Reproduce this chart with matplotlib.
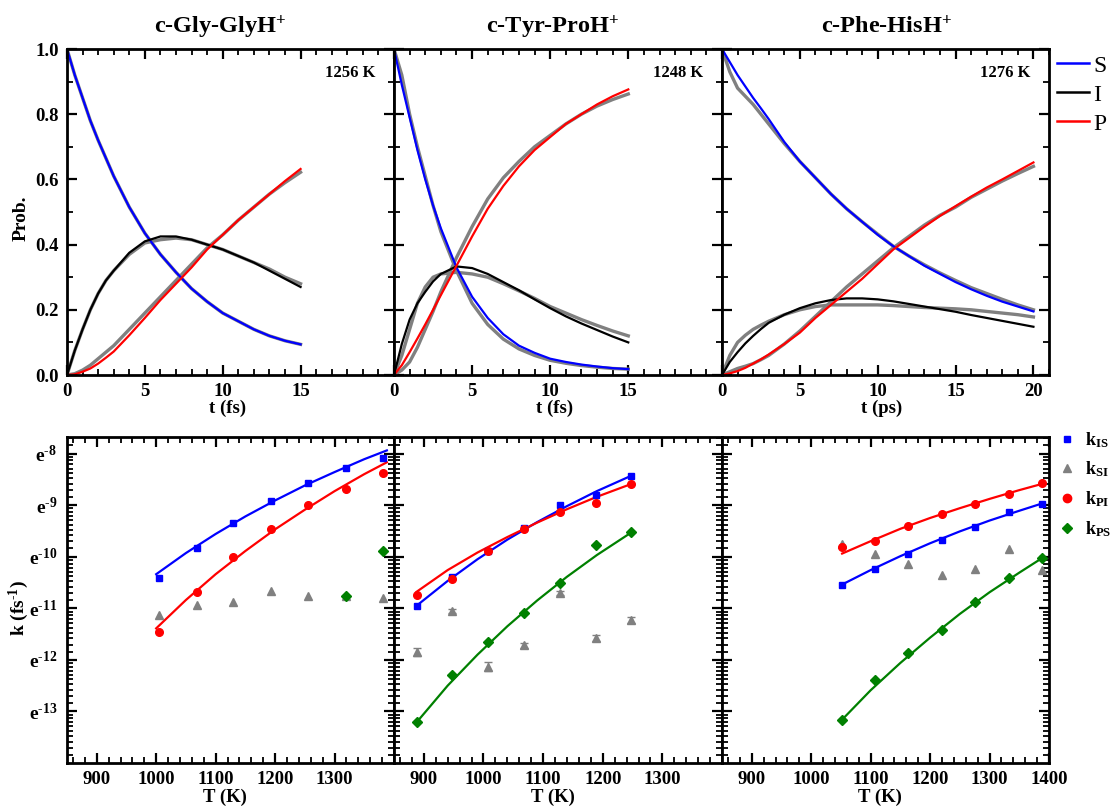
import numpy as np
import matplotlib
matplotlib.use("Agg")
import matplotlib.pyplot as plt
from matplotlib.ticker import MultipleLocator, FixedLocator, FixedFormatter, NullFormatter
from matplotlib.lines import Line2D

plt.rcParams['font.family'] = ['Liberation Serif', 'DejaVu Serif']
plt.rcParams['font.weight'] = 'bold'
plt.rcParams['mathtext.fontset'] = 'custom'
plt.rcParams['mathtext.rm'] = 'Liberation Serif'
plt.rcParams['mathtext.bf'] = 'Liberation Serif:bold'
plt.rcParams['mathtext.default'] = 'bf'

# ---- top row: populations vs time (fits + simulation in grey) ----
t15 = [0, 0.5, 1, 1.5, 2, 2.5, 3, 4, 5, 6, 7, 8, 9, 10, 11, 12, 13, 14, 15]
t20 = [0, 0.5, 1, 1.5, 2, 2.5, 3, 4, 5, 6, 7, 8, 9, 10, 11, 12, 13, 14, 15, 16, 17, 18, 19, 20]

# c-Gly-GlyH+  1256 K
S1 = [1.0, 0.92, 0.85, 0.78, 0.72, 0.665, 0.61, 0.515, 0.435, 0.37, 0.315, 0.265, 0.225, 0.19, 0.165, 0.14,
      0.12, 0.105, 0.094]
I1 = [0, 0.075, 0.14, 0.20, 0.25, 0.29, 0.32, 0.375, 0.41, 0.425, 0.425, 0.415, 0.40, 0.385, 0.365, 0.345,
      0.32, 0.295, 0.27]
P1 = [0, 0.002, 0.01, 0.02, 0.035, 0.053, 0.072, 0.122, 0.175, 0.23, 0.28, 0.33, 0.385, 0.43, 0.475, 0.515,
      0.555, 0.595, 0.632]
Ig1 = [0, 0.075, 0.14, 0.20, 0.25, 0.29, 0.32, 0.37, 0.405, 0.415, 0.42, 0.415, 0.40, 0.385, 0.365, 0.345,
       0.325, 0.30, 0.28]
Pg1 = [0, 0.004, 0.015, 0.03, 0.05, 0.07, 0.09, 0.14, 0.19, 0.24, 0.29, 0.34, 0.39, 0.43, 0.475, 0.515,
       0.555, 0.59, 0.622]

# c-Tyr-ProH+  1248 K
S2 = [1.0, 0.89, 0.79, 0.69, 0.60, 0.52, 0.45, 0.33, 0.24, 0.175, 0.125, 0.09, 0.068, 0.05, 0.04, 0.032,
      0.026, 0.021, 0.018]
I2 = [0, 0.095, 0.17, 0.22, 0.255, 0.287, 0.31, 0.333, 0.328, 0.31, 0.285, 0.26, 0.232, 0.205, 0.18, 0.158,
      0.138, 0.118, 0.10]
P2 = [0, 0.03, 0.07, 0.112, 0.155, 0.20, 0.245, 0.335, 0.425, 0.51, 0.58, 0.64, 0.69, 0.73, 0.77, 0.80,
      0.83, 0.855, 0.876]
Sg2 = [1.0, 0.92, 0.80, 0.70, 0.61, 0.52, 0.44, 0.32, 0.22, 0.155, 0.11, 0.08, 0.06, 0.045, 0.036, 0.029,
       0.024, 0.02, 0.018]
Ig2 = [0, 0.06, 0.14, 0.22, 0.27, 0.30, 0.31, 0.315, 0.31, 0.30, 0.28, 0.258, 0.235, 0.21, 0.19, 0.17,
       0.152, 0.135, 0.12]
Pg2 = [0, 0.015, 0.04, 0.085, 0.14, 0.195, 0.255, 0.36, 0.455, 0.54, 0.605, 0.655, 0.70, 0.735, 0.77, 0.80,
       0.825, 0.845, 0.862]

# c-Phe-HisH+  1276 K (ps)
S3 = [1.0, 0.96, 0.92, 0.885, 0.85, 0.818, 0.785, 0.715, 0.655, 0.605, 0.555, 0.51, 0.47, 0.43, 0.395, 0.365,
      0.335, 0.31, 0.285, 0.263, 0.243, 0.225, 0.21, 0.195]
I3 = [0, 0.04, 0.07, 0.097, 0.12, 0.141, 0.16, 0.185, 0.205, 0.22, 0.23, 0.235, 0.235, 0.232, 0.226, 0.218,
      0.21, 0.202, 0.194, 0.184, 0.175, 0.166, 0.157, 0.148]
P3 = [0, 0.005, 0.012, 0.022, 0.035, 0.048, 0.063, 0.095, 0.13, 0.175, 0.215, 0.255, 0.295, 0.34, 0.385, 0.42,
      0.455, 0.488, 0.518, 0.547, 0.575, 0.60, 0.626, 0.652]
Sg3 = [1.0, 0.93, 0.88, 0.855, 0.83, 0.80, 0.77, 0.71, 0.655, 0.605, 0.555, 0.51, 0.47, 0.432, 0.395, 0.365,
       0.338, 0.313, 0.29, 0.268, 0.25, 0.232, 0.215, 0.20]
Ig3 = [0, 0.06, 0.10, 0.122, 0.14, 0.153, 0.165, 0.185, 0.20, 0.21, 0.215, 0.215, 0.215, 0.215, 0.213, 0.21,
       0.207, 0.205, 0.203, 0.20, 0.195, 0.19, 0.185, 0.178]
Pg3 = [0, 0.01, 0.02, 0.027, 0.035, 0.047, 0.06, 0.095, 0.135, 0.18, 0.225, 0.27, 0.31, 0.35, 0.39, 0.425,
       0.46, 0.49, 0.515, 0.545, 0.57, 0.595, 0.618, 0.64]

titles = ['c-Gly-GlyH$^{+}$', 'c-Tyr-ProH$^{+}$', 'c-Phe-HisH$^{+}$']
temps = ['1256 K', '1248 K', '1276 K']
tunits = ['t (fs)', 't (fs)', 't (ps)']

# ---- bottom row: ln k vs T ----
T1 = [1005, 1068, 1130, 1193, 1256, 1319, 1381]
lnIS1 = [-10.41, -9.84, -9.35, -8.92, -8.57, -8.29, -8.08]
lnPI1 = [-11.46, -10.68, -10.01, -9.46, -8.99, -8.68, -8.37]
lnSI1 = [-11.14, -10.94, -10.88, -10.67, -10.77, -10.77, -10.81]
T1ps = [1319, 1381]
lnPS1 = [-10.77, -9.89]
Tf1 = [1000, 1050, 1100, 1150, 1200, 1250, 1300, 1350, 1388]
fIS1 = [-10.34, -9.93, -9.56, -9.22, -8.91, -8.62, -8.36, -8.11, -7.94]
fPI1 = [-11.39, -10.84, -10.34, -9.89, -9.47, -9.09, -8.73, -8.40, -8.17]

T2 = [888, 948, 1008, 1068, 1128, 1188, 1248]
lnIS2 = [-10.95, -10.40, -9.89, -9.45, -9.00, -8.81, -8.43]
lnPI2 = [-10.74, -10.43, -9.89, -9.47, -9.14, -8.95, -8.59]
lnSI2 = [-11.85, -11.06, -12.13, -11.72, -10.71, -11.58, -11.23]
errSI2 = [0.08, 0.04, 0.08, 0.05, 0.04, 0.06, 0.06]
lnPS2 = [-13.21, -12.30, -11.65, -11.10, -10.51, -9.78, -9.53]
Tf2 = [888, 940, 990, 1040, 1090, 1140, 1190, 1248]
fIS2 = [-10.95, -10.47, -10.05, -9.67, -9.33, -9.02, -8.73, -8.43]
fPI2 = [-10.68, -10.26, -9.92, -9.62, -9.34, -9.08, -8.84, -8.59]
fPS2 = [-13.21, -12.50, -11.90, -11.35, -10.85, -10.39, -9.97, -9.53]

T3 = [1052, 1107, 1163, 1220, 1276, 1332, 1388]
lnIS3 = [-10.54, -10.23, -9.94, -9.68, -9.43, -9.14, -8.97]
lnPI3 = [-9.81, -9.70, -9.40, -9.17, -8.97, -8.78, -8.57]
lnSI3 = [-9.75, -9.95, -10.14, -10.35, -10.24, -9.85, -10.26]
lnPS3 = [-13.16, -12.39, -11.87, -11.43, -10.88, -10.42, -10.03]
Tf3 = [1052, 1100, 1150, 1200, 1250, 1300, 1350, 1388]
fIS3 = [-10.54, -10.26, -9.99, -9.74, -9.51, -9.30, -9.11, -8.97]
fPI3 = [-9.94, -9.70, -9.46, -9.25, -9.06, -8.88, -8.71, -8.59]
fPS3 = [-13.16, -12.59, -12.06, -11.57, -11.11, -10.69, -10.31, -10.03]

ln_major = [-13, -12, -11, -10, -9, -8]

blue, red, green, grey = '#0000FF', '#FF0000', '#008000', '#808080'

W, H = 1118, 806
fig = plt.figure(figsize=(W / 100, H / 100), dpi=100)


def add_ax(x0, y0, x1, y1):
    return fig.add_axes([x0 / W, 1 - y1 / H, (x1 - x0) / W, (y1 - y0) / H])


def style(ax):
    for s in ax.spines.values():
        s.set_linewidth(2)
    ax.tick_params(which='both', direction='in', top=True, right=True, labelsize=13.5, pad=6)
    ax.tick_params(which='major', length=7, width=1.6)
    ax.tick_params(which='minor', length=4, width=1.3)
    for lab in ax.get_xticklabels() + ax.get_yticklabels():
        lab.set_fontweight('bold')


xs = [67, 394, 722, 1049]
tdata = [
    (t15, S1, I1, P1, S1, Ig1, Pg1),
    (t15, S2, I2, P2, Sg2, Ig2, Pg2),
    (t20, S3, I3, P3, Sg3, Ig3, Pg3),
]
for i in range(3):
    ax = add_ax(xs[i], 49, xs[i + 1], 375)
    t, S, I, P, Sg, Ig, Pg = tdata[i]
    ax.plot(t, Sg, color=grey, lw=2.4)
    ax.plot(t, Ig, color=grey, lw=2.4)
    ax.plot(t, Pg, color=grey, lw=2.4)
    ax.plot(t, S, color=blue, lw=1.6)
    ax.plot(t, I, color='black', lw=1.6)
    ax.plot(t, P, color=red, lw=1.6)
    ax.set_xlim(0, 21)
    ax.set_ylim(0, 1.0)
    ax.xaxis.set_major_locator(FixedLocator([0, 5, 10, 15] + ([20] if i == 2 else [])))
    ax.xaxis.set_minor_locator(MultipleLocator(1))
    ax.yaxis.set_major_locator(MultipleLocator(0.2))
    ax.yaxis.set_minor_locator(MultipleLocator(0.1))
    if i > 0:
        ax.set_yticklabels([])
    style(ax)
    ax.text(0.942, 0.926, temps[i], transform=ax.transAxes, ha='right', va='center',
            fontsize=12, fontweight='bold')

ylab_fmt = [r'e$^{\text{-}%d}$' % (-v) for v in ln_major]
minor_ln = []
for n in range(-14, -7):
    for j in range(1, 10):
        minor_ln.append(np.log(np.exp(n) + j * (np.exp(n + 1) - np.exp(n)) / 10))

bdata = [
    (T1, lnIS1, lnSI1, lnPI1, T1ps, lnPS1, None, Tf1, fIS1, fPI1, None),
    (T2, lnIS2, lnSI2, lnPI2, T2, lnPS2, errSI2, Tf2, fIS2, fPI2, fPS2),
    (T3, lnIS3, lnSI3, lnPI3, T3, lnPS3, None, Tf3, fIS3, fPI3, fPS3),
]
for i in range(3):
    ax = add_ax(xs[i], 437, xs[i + 1], 763)
    T, lis, lsi, lpi, Tps, lps, esi, Tf, fis, fpi, fps = bdata[i]
    ax.set_yscale('log', base=np.e)
    ax.plot(Tf, np.exp(fis), color=blue, lw=1.6)
    ax.plot(Tf, np.exp(fpi), color=red, lw=1.6)
    if fps is not None:
        ax.plot(Tf, np.exp(fps), color=green, lw=1.6)
    ksi = np.exp(lsi)
    if esi is not None:
        e = np.array(esi)
        ax.errorbar(T, ksi, yerr=[ksi - ksi * np.exp(-e), ksi * np.exp(e) - ksi], fmt='none',
                    ecolor=grey, elinewidth=1, capsize=3, capthick=1)
    ax.plot(T, ksi, '^', color=grey, ms=5.5, mec=grey)
    ax.plot(T, np.exp(lis), 's', color=blue, ms=5)
    ax.plot(T, np.exp(lpi), 'o', color=red, ms=5.5)
    ax.plot(Tps, np.exp(lps), 'D', color=green, ms=5)
    ax.set_xlim(850, 1400)
    ax.set_ylim(np.exp(-14), np.exp(-7.68))
    ax.xaxis.set_major_locator(FixedLocator([900, 1000, 1100, 1200, 1300] + ([1400] if i == 2 else [])))
    ax.xaxis.set_minor_locator(MultipleLocator(20))
    ax.yaxis.set_major_locator(FixedLocator(np.exp(ln_major)))
    ax.yaxis.set_minor_locator(FixedLocator(np.exp(minor_ln)))
    ax.yaxis.set_minor_formatter(NullFormatter())
    if i == 0:
        ax.yaxis.set_major_formatter(FixedFormatter(ylab_fmt))
    else:
        ax.yaxis.set_major_formatter(NullFormatter())
    style(ax)
    ax.tick_params(axis='y', which='major', labelsize=14, pad=7)

# titles and axis labels
tcx = [220, 553, 886]
for i in range(3):
    fig.text(tcx[i] / W, 1 - 27 / H, titles[i], ha='center', va='center', fontsize=17.5, fontweight='bold')
xcx_top = [228, 555, 882]
xcx_bot = [225, 553, 880]
for i in range(3):
    fig.text(xcx_top[i] / W, 1 - 408 / H, tunits[i], ha='center', va='center', fontsize=13.5, fontweight='bold')
    fig.text(xcx_bot[i] / W, 1 - 797 / H, 'T (K)', ha='center', va='center', fontsize=13.5, fontweight='bold')
fig.text(21 / W, 1 - 218 / H, 'Prob.', rotation=90, ha='center', va='center', fontsize=14, fontweight='bold')
fig.text(19 / W, 1 - 608 / H, 'k (fs$^{\\text{-}1}$)', rotation=90, ha='center', va='center', fontsize=14,
         fontweight='bold')

# legends
h_top = [Line2D([], [], color=blue, lw=1.8), Line2D([], [], color='black', lw=1.8),
         Line2D([], [], color=red, lw=1.8)]
fig.legend(h_top, ['S', 'I', 'P'], loc='upper left', bbox_to_anchor=(1057 / W, 1 - 55 / H), frameon=False,
           prop={'family': 'Liberation Serif', 'weight': 'normal', 'size': 17},
           handlelength=1.35, labelspacing=0.32, handletextpad=0.2, borderaxespad=0, borderpad=0)
h_bot = [Line2D([], [], ls='none', marker='s', color=blue, ms=5),
         Line2D([], [], ls='none', marker='^', color=grey, ms=6),
         Line2D([], [], ls='none', marker='o', color=red, ms=6),
         Line2D([], [], ls='none', marker='D', color=green, ms=5)]
fig.legend(h_bot, ['k$_{IS}$', 'k$_{SI}$', 'k$_{PI}$', 'k$_{PS}$'], loc='upper left',
           bbox_to_anchor=(1060 / W, 1 - 430 / H), frameon=False,
           prop={'family': 'Liberation Serif', 'weight': 'bold', 'size': 13},
           handlelength=0.8, labelspacing=0.55, handletextpad=0.6, borderaxespad=0, borderpad=0)

fig.savefig('out.png', dpi=100)
